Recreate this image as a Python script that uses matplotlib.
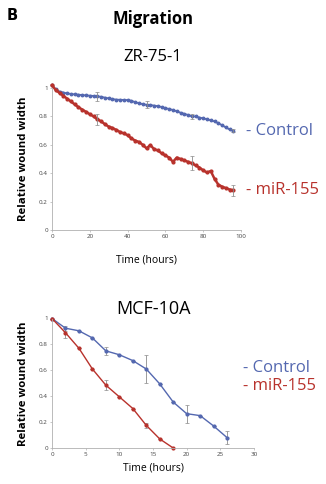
import numpy as np
import matplotlib
matplotlib.use("Agg")
from matplotlib import pyplot as plt

plt.rcParams['font.family'] = ['Open Sans', 'DejaVu Sans']

BLUE = '#5468b0'
RED = '#b8322c'
GRAY = '#8c8c8c'

## ZR-75-1 (top)
zr_t = list(range(0, 97, 2))
zr_ctrl = [1.02, 0.99, 0.975, 0.968, 0.962, 0.958, 0.955, 0.953, 0.950, 0.948,
           0.946, 0.944, 0.941, 0.938, 0.932, 0.927, 0.922, 0.918, 0.917, 0.916,
           0.915, 0.910, 0.900, 0.893, 0.886, 0.882, 0.880, 0.876, 0.872, 0.866,
           0.858, 0.852, 0.845, 0.836, 0.826, 0.818, 0.810, 0.800, 0.800, 0.792,
           0.786, 0.780, 0.772, 0.765, 0.752, 0.738, 0.722, 0.708, 0.700]
zr_mir = [1.02, 0.985, 0.965, 0.945, 0.925, 0.905, 0.885, 0.865, 0.848, 0.832,
          0.815, 0.800, 0.780, 0.765, 0.745, 0.728, 0.718, 0.705, 0.690, 0.680,
          0.668, 0.645, 0.630, 0.620, 0.600, 0.575, 0.598, 0.570, 0.560, 0.540,
          0.525, 0.510, 0.480, 0.510, 0.500, 0.490, 0.480, 0.470, 0.455, 0.440,
          0.420, 0.405, 0.415, 0.360, 0.320, 0.305, 0.295, 0.285, 0.280]
# barras de erro (tempo, erro)
zr_ctrl_err_t = [24, 50, 74, 96]
zr_ctrl_err = [0.03, 0.025, 0.02, 0.01]
zr_mir_err_t = [24, 74, 96]
zr_mir_err = [0.04, 0.05, 0.04]

## MCF-10A (bottom)
mcf_ctrl_t = [0, 2, 4, 6, 8, 10, 12, 14, 16, 18, 20, 22, 24, 26]
mcf_ctrl = [1.0, 0.925, 0.905, 0.85, 0.75, 0.72, 0.675, 0.61, 0.495, 0.355, 0.265, 0.25, 0.17, 0.08]
mcf_ctrl_err = [0, 0.02, 0, 0, 0.03, 0, 0, 0.11, 0, 0, 0.07, 0, 0, 0.05]
mcf_mir_t = [0, 2, 4, 6, 8, 10, 12, 14, 16, 18]
mcf_mir = [1.0, 0.89, 0.77, 0.61, 0.485, 0.395, 0.305, 0.175, 0.07, 0.0]
mcf_mir_err = [0, 0.04, 0, 0, 0.04, 0, 0, 0.02, 0, 0]


def estilo(ax, xmax, xstep, xpad):
    ax.set_xlim(0, xmax)
    ax.set_ylim(0, 1)
    ax.set_xticks(np.arange(0, xmax + 1, xstep))
    ax.set_yticks([0, 0.2, 0.4, 0.6, 0.8, 1])
    ax.set_yticklabels(['0', '0.2', '0.4', '0.6', '0.8', '1'])
    for s in ['top', 'right']:
        ax.spines[s].set_visible(False)
    for s in ['left', 'bottom']:
        ax.spines[s].set_color('#b0b0b0')
        ax.spines[s].set_linewidth(0.6)
    ax.tick_params(labelsize=4.5, length=1.5, width=0.5, colors='#b0b0b0',
                   labelcolor='#444444', pad=1.5)
    ax.set_xlabel('Time (hours)', fontsize=7.5, labelpad=xpad)
    ax.set_ylabel('Relative wound width', fontsize=8.2, fontweight='bold', labelpad=7)


fig = plt.figure(figsize=(3.26, 4.84), dpi=100)

fig.text(7/326, 1 - 16/484, 'B', fontsize=10.5, fontweight='bold', va='center',
         family=['DejaVu Sans'])
fig.text(153/326, 1 - 19/484, 'Migration', fontsize=12, fontweight='bold', ha='center', va='center')
fig.text(153/326, 1 - 57/484, 'ZR-75-1', fontsize=12, ha='center', va='center')
fig.text(153/326, 1 - 309/484, 'MCF-10A', fontsize=13, ha='center', va='center')

# superior
ax1 = fig.add_axes([52/326, 1 - 230/484, 189/326, 142/484])
ax1.plot(zr_t, zr_ctrl, '-o', color=BLUE, ms=1.8, lw=1.3, clip_on=False)
ax1.plot(zr_t, zr_mir, '-o', color=RED, ms=2.0, lw=1.8, clip_on=False)
ax1.errorbar(zr_ctrl_err_t, [zr_ctrl[zr_t.index(t)] for t in zr_ctrl_err_t],
             yerr=zr_ctrl_err, fmt='none', ecolor=GRAY, elinewidth=0.6, capsize=1.2, capthick=0.5)
ax1.errorbar(zr_mir_err_t, [zr_mir[zr_t.index(t)] for t in zr_mir_err_t],
             yerr=zr_mir_err, fmt='none', ecolor=GRAY, elinewidth=0.6, capsize=1.2, capthick=0.5)
estilo(ax1, 100, 20, 11)
ax1.text(1.025, zr_ctrl[-1], '- Control', transform=ax1.get_yaxis_transform(),
         color=BLUE, fontsize=12, va='center', ha='left')
ax1.text(1.025, zr_mir[-1], '- miR-155', transform=ax1.get_yaxis_transform(),
         color=RED, fontsize=12, va='center', ha='left')

# inferior
ax2 = fig.add_axes([52/326, 1 - 448/484, 202/326, 129.5/484])
ax2.errorbar(mcf_ctrl_t, mcf_ctrl, yerr=mcf_ctrl_err, fmt='-o', color=BLUE, ecolor=GRAY,
             ms=2, lw=1.0, elinewidth=0.6, capsize=1.2, capthick=0.5, clip_on=False)
ax2.errorbar(mcf_mir_t, mcf_mir, yerr=mcf_mir_err, fmt='-o', color=RED, ecolor=GRAY,
             ms=2, lw=1.0, elinewidth=0.6, capsize=1.2, capthick=0.5, clip_on=False)
estilo(ax2, 30, 5, 4)
fig.text(243/326, 1 - 368/484, '- Control', color=BLUE, fontsize=12, va='center', ha='left')
fig.text(243/326, 1 - 386/484, '- miR-155', color=RED, fontsize=12, va='center', ha='left')

fig.savefig('out.png', dpi=100)
